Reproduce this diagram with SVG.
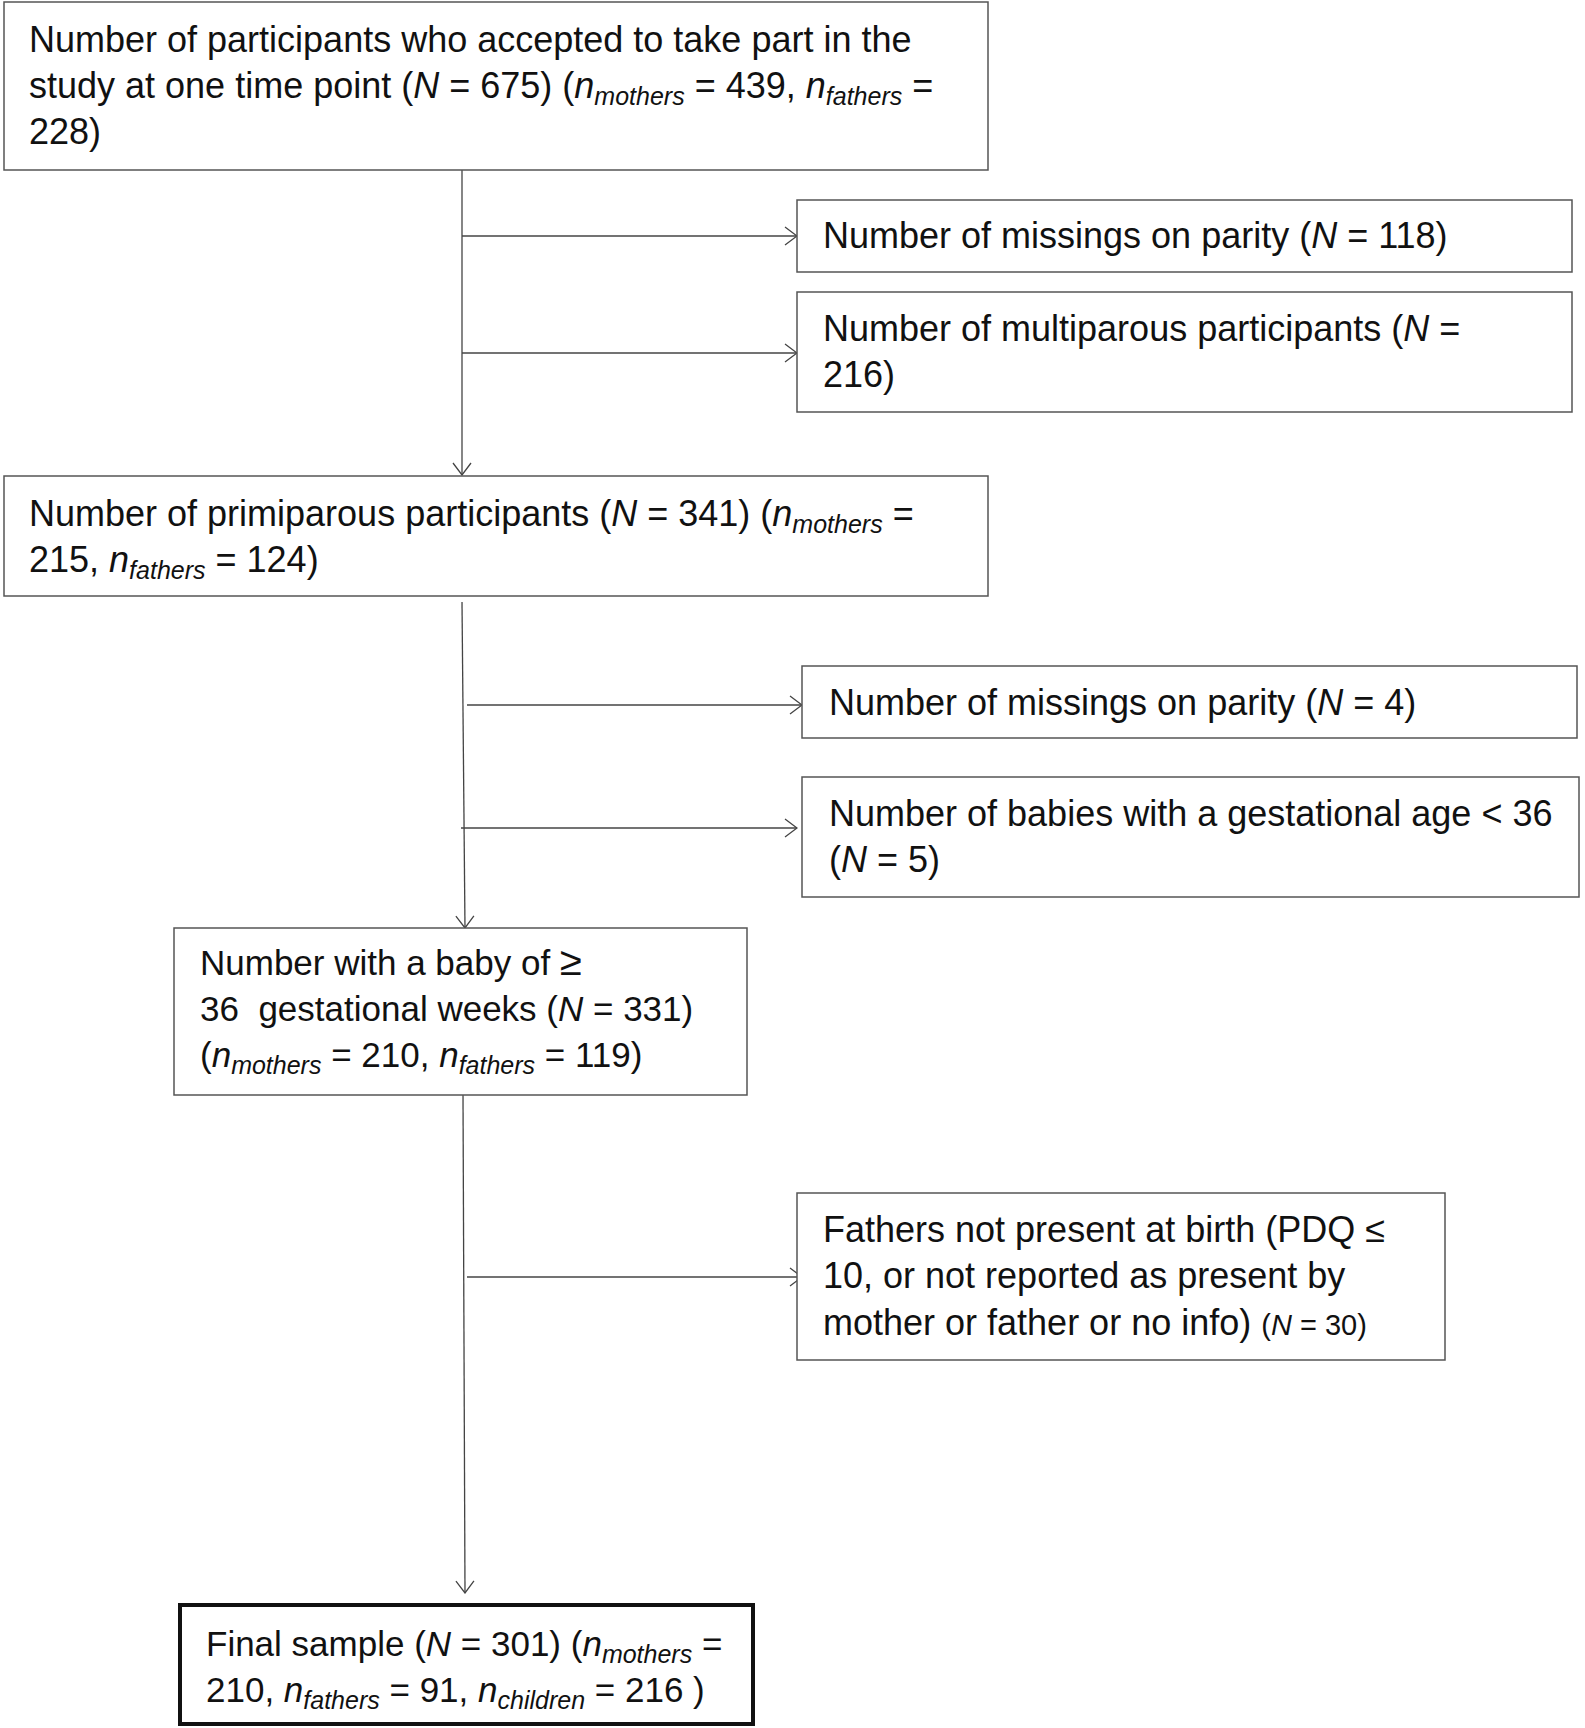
<svg xmlns="http://www.w3.org/2000/svg" width="1585" height="1728" viewBox="0 0 1585 1728">
<defs>
<marker id="arr" viewBox="0 0 14 20" refX="13" refY="10" markerWidth="14" markerHeight="20" markerUnits="userSpaceOnUse" orient="auto">
<path d="M1,1 L13,10 L1,19" fill="none" stroke="#444" stroke-width="1.3"/>
</marker>
<style>
.box{fill:#fff;stroke:#555;stroke-width:1.5}
.final{fill:#fff;stroke:#111;stroke-width:4}
.t{font-family:"Liberation Sans",Arial,sans-serif;font-size:36px;fill:#111}
.t2{font-size:35px}
.i{font-style:italic}
.s{font-style:italic;font-size:25px}
.sm{font-size:29px}
.c{fill:none;stroke:#444;stroke-width:1.3}
</style>
</defs>
<rect width="1585" height="1728" fill="#fff"/>

<g id="connectors">
<line class="c" x1="462" y1="145" x2="462" y2="475" marker-end="url(#arr)"/>
<line class="c" x1="462" y1="236" x2="797" y2="236" marker-end="url(#arr)"/>
<line class="c" x1="462" y1="353" x2="797" y2="353" marker-end="url(#arr)"/>
<line class="c" x1="462" y1="602" x2="465" y2="928" marker-end="url(#arr)"/>
<line class="c" x1="467" y1="705" x2="802" y2="705" marker-end="url(#arr)"/>
<line class="c" x1="461" y1="828" x2="797" y2="828" marker-end="url(#arr)"/>
<line class="c" x1="463" y1="1095" x2="465" y2="1593" marker-end="url(#arr)"/>
<line class="c" x1="467" y1="1277" x2="802" y2="1277" marker-end="url(#arr)"/>
</g>

<g id="n1">
<rect class="box" x="4" y="2" width="984" height="168"/>
<text class="t" x="29" y="52">Number of participants who accepted to take part in the</text>
<text class="t" x="29" y="98">study at one time point (<tspan class="i">N</tspan> = 675) (<tspan class="i">n</tspan><tspan class="s" dy="7">mothers</tspan><tspan dy="-7"> = 439, </tspan><tspan class="i">n</tspan><tspan class="s" dy="7">fathers</tspan><tspan dy="-7"> =</tspan></text>
<text class="t" x="29" y="144">228)</text>
</g>

<g id="n2">
<rect class="box" x="797" y="200" width="775" height="72"/>
<text class="t" x="823" y="248">Number of missings on parity (<tspan class="i">N</tspan> = 118)</text>
</g>

<g id="n3">
<rect class="box" x="797" y="292" width="775" height="120"/>
<text class="t" x="823" y="341">Number of multiparous participants (<tspan class="i">N</tspan> =</text>
<text class="t" x="823" y="387">216)</text>
</g>

<g id="n4">
<rect class="box" x="4" y="476" width="984" height="120"/>
<text class="t" x="29" y="526">Number of primiparous participants (<tspan class="i">N</tspan> = 341) (<tspan class="i">n</tspan><tspan class="s" dy="7">mothers</tspan><tspan dy="-7"> =</tspan></text>
<text class="t" x="29" y="572">215, <tspan class="i">n</tspan><tspan class="s" dy="7">fathers</tspan><tspan dy="-7"> = 124)</tspan></text>
</g>

<g id="n5">
<rect class="box" x="802" y="666" width="775" height="72"/>
<text class="t" x="829" y="715">Number of missings on parity (<tspan class="i">N</tspan> = 4)</text>
</g>

<g id="n6">
<rect class="box" x="802" y="777" width="777" height="120"/>
<text class="t" x="829" y="826">Number of babies with a gestational age &lt; 36</text>
<text class="t" x="829" y="872">(<tspan class="i">N</tspan> = 5)</text>
</g>

<g id="n7">
<rect class="box" x="174" y="928" width="573" height="167"/>
<text class="t t2" x="200" y="975">Number with a baby of <tspan font-size="40px">≥</tspan></text>
<text class="t t2" x="200" y="1021">36&#160; gestational weeks (<tspan class="i">N</tspan> = 331)</text>
<text class="t t2" x="200" y="1067">(<tspan class="i">n</tspan><tspan class="s" dy="7">mothers</tspan><tspan dy="-7"> = 210, </tspan><tspan class="i">n</tspan><tspan class="s" dy="7">fathers</tspan><tspan dy="-7"> = 119)</tspan></text>
</g>

<g id="n8">
<rect class="box" x="797" y="1193" width="648" height="167"/>
<text class="t" x="823" y="1242">Fathers not present at birth (PDQ ≤</text>
<text class="t" x="823" y="1288">10, or not reported as present by</text>
<text class="t" x="823" y="1335">mother or father or no info) <tspan class="sm">(<tspan class="i">N</tspan> = 30)</tspan></text>
</g>

<g id="n9">
<rect class="final" x="180" y="1605" width="573" height="119"/>
<text class="t t2" x="206" y="1656">Final sample (<tspan class="i">N</tspan> = 301) (<tspan class="i">n</tspan><tspan class="s" dy="7">mothers</tspan><tspan dy="-7"> =</tspan></text>
<text class="t t2" x="206" y="1702">210, <tspan class="i">n</tspan><tspan class="s" dy="7">fathers</tspan><tspan dy="-7"> = 91, </tspan><tspan class="i">n</tspan><tspan class="s" dy="7">children</tspan><tspan dy="-7"> = 216 )</tspan></text>
</g>
</svg>
